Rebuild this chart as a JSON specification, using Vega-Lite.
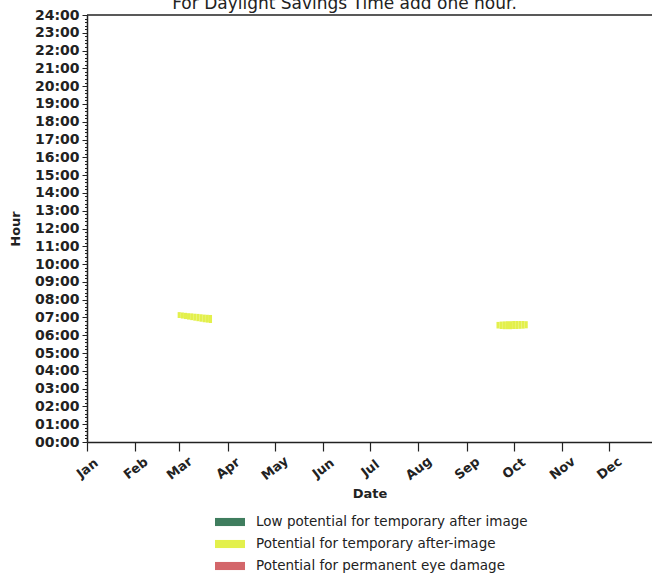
{
  "$schema": "https://vega.github.io/schema/vega-lite/v6.json",
  "width": 565,
  "height": 427,
  "autosize": {"type": "none"},
  "padding": {"left": 87, "top": 15, "right": 0, "bottom": 136},
  "background": "white",
  "config": {"view": {"stroke": null}},
  "title": {
    "text": "For Daylight Savings Time add one hour.",
    "font": "DejaVu Sans",
    "fontSize": 17,
    "fontWeight": "normal",
    "color": "#222222",
    "anchor": "middle",
    "dx": -25,
    "dy": 5,
    "offset": 0,
    "frame": "group"
  },
  "data": {
    "values": [
      {"date": "2023-02-28", "date2": "2023-03-02", "start": 6.97, "end": 7.30, "category": "Potential for temporary after-image"},
      {"date": "2023-03-02", "date2": "2023-03-04", "start": 6.94, "end": 7.28, "category": "Potential for temporary after-image"},
      {"date": "2023-03-04", "date2": "2023-03-06", "start": 6.91, "end": 7.26, "category": "Potential for temporary after-image"},
      {"date": "2023-03-06", "date2": "2023-03-08", "start": 6.88, "end": 7.24, "category": "Potential for temporary after-image"},
      {"date": "2023-03-08", "date2": "2023-03-10", "start": 6.85, "end": 7.23, "category": "Potential for temporary after-image"},
      {"date": "2023-03-10", "date2": "2023-03-12", "start": 6.82, "end": 7.21, "category": "Potential for temporary after-image"},
      {"date": "2023-03-12", "date2": "2023-03-14", "start": 6.79, "end": 7.20, "category": "Potential for temporary after-image"},
      {"date": "2023-03-14", "date2": "2023-03-16", "start": 6.76, "end": 7.18, "category": "Potential for temporary after-image"},
      {"date": "2023-03-16", "date2": "2023-03-18", "start": 6.73, "end": 7.16, "category": "Potential for temporary after-image"},
      {"date": "2023-03-18", "date2": "2023-03-20", "start": 6.71, "end": 7.15, "category": "Potential for temporary after-image"},
      {"date": "2023-03-20", "date2": "2023-03-22", "start": 6.69, "end": 7.14, "category": "Potential for temporary after-image"},
      {"date": "2023-09-20", "date2": "2023-09-22", "start": 6.38, "end": 6.75, "category": "Potential for temporary after-image"},
      {"date": "2023-09-22", "date2": "2023-09-24", "start": 6.35, "end": 6.77, "category": "Potential for temporary after-image"},
      {"date": "2023-09-24", "date2": "2023-09-26", "start": 6.34, "end": 6.78, "category": "Potential for temporary after-image"},
      {"date": "2023-09-26", "date2": "2023-09-28", "start": 6.34, "end": 6.79, "category": "Potential for temporary after-image"},
      {"date": "2023-09-28", "date2": "2023-09-30", "start": 6.34, "end": 6.79, "category": "Potential for temporary after-image"},
      {"date": "2023-09-30", "date2": "2023-10-02", "start": 6.35, "end": 6.80, "category": "Potential for temporary after-image"},
      {"date": "2023-10-02", "date2": "2023-10-04", "start": 6.35, "end": 6.80, "category": "Potential for temporary after-image"},
      {"date": "2023-10-04", "date2": "2023-10-06", "start": 6.36, "end": 6.80, "category": "Potential for temporary after-image"},
      {"date": "2023-10-06", "date2": "2023-10-08", "start": 6.37, "end": 6.80, "category": "Potential for temporary after-image"},
      {"date": "2023-10-08", "date2": "2023-10-10", "start": 6.39, "end": 6.79, "category": "Potential for temporary after-image"}
    ]
  },
  "layer": [
    {
      "mark": {"type": "rect", "opacity": 1},
      "encoding": {
        "x": {
          "field": "date",
          "type": "temporal",
          "scale": {
            "type": "utc",
            "domain": [
              {"year": 2023, "month": 1, "date": 1, "utc": true},
              {"year": 2023, "month": 12, "date": 28, "hours": 12, "utc": true}
            ]
          },
          "axis": {
            "title": "Date",
            "values": [
              {"year": 2023, "month": 1, "date": 1, "utc": true},
              {"year": 2023, "month": 2, "date": 1, "utc": true},
              {"year": 2023, "month": 3, "date": 1, "utc": true},
              {"year": 2023, "month": 4, "date": 1, "utc": true},
              {"year": 2023, "month": 5, "date": 1, "utc": true},
              {"year": 2023, "month": 6, "date": 1, "utc": true},
              {"year": 2023, "month": 7, "date": 1, "utc": true},
              {"year": 2023, "month": 8, "date": 1, "utc": true},
              {"year": 2023, "month": 9, "date": 1, "utc": true},
              {"year": 2023, "month": 10, "date": 1, "utc": true},
              {"year": 2023, "month": 11, "date": 1, "utc": true},
              {"year": 2023, "month": 12, "date": 1, "utc": true}
            ],
            "format": "%b",
            "tickCount": 50,
            "grid": false,
            "labelAngle": -38,
            "labelAlign": "center",
            "labelBaseline": "middle",
            "labelPadding": 17,
            "labelOverlap": false,
            "labelFlush": false,
            "labelFont": "DejaVu Sans",
            "labelFontWeight": "bold",
            "labelFontSize": 13,
            "labelColor": "#222222",
            "tickSize": 9,
            "tickColor": "#222222",
            "tickWidth": 1.2,
            "domainColor": "#222222",
            "domainWidth": 1.5,
            "titleFont": "DejaVu Sans",
            "titleFontWeight": "bold",
            "titleFontSize": 13,
            "titleColor": "#222222",
            "titlePadding": 5
          }
        },
        "x2": {"field": "date2"},
        "y": {
          "field": "start",
          "type": "quantitative",
          "scale": {"domain": [0, 24], "nice": false, "zero": false},
          "axis": {
            "title": "Hour",
            "values": [0, 0.2, 0.4, 0.6, 0.8, 1, 1.2, 1.4, 1.6, 1.8, 2, 2.2, 2.4, 2.6, 2.8, 3, 3.2, 3.4, 3.6, 3.8, 4, 4.2, 4.4, 4.6, 4.8, 5, 5.2, 5.4, 5.6, 5.8, 6, 6.2, 6.4, 6.6, 6.8, 7, 7.2, 7.4, 7.6, 7.8, 8, 8.2, 8.4, 8.6, 8.8, 9, 9.2, 9.4, 9.6, 9.8, 10, 10.2, 10.4, 10.6, 10.8, 11, 11.2, 11.4, 11.6, 11.8, 12, 12.2, 12.4, 12.6, 12.8, 13, 13.2, 13.4, 13.6, 13.8, 14, 14.2, 14.4, 14.6, 14.8, 15, 15.2, 15.4, 15.6, 15.8, 16, 16.2, 16.4, 16.6, 16.8, 17, 17.2, 17.4, 17.6, 17.8, 18, 18.2, 18.4, 18.6, 18.8, 19, 19.2, 19.4, 19.6, 19.8, 20, 20.2, 20.4, 20.6, 20.8, 21, 21.2, 21.4, 21.6, 21.8, 22, 22.2, 22.4, 22.6, 22.8, 23, 23.2, 23.4, 23.6, 23.8, 24],
            "tickCount": 500,
            "labelExpr": "abs(datum.value - round(datum.value)) < 0.01 ? (round(datum.value) < 10 ? '0' : '') + round(datum.value) + ':00' : ''",
            "tickSize": {"condition": {"test": "abs(datum.value - round(datum.value)) < 0.01", "value": 5}, "value": 2.5},
            "grid": false,
            "labelOverlap": false,
            "labelFlush": false,
            "labelFont": "DejaVu Sans",
            "labelFontWeight": "bold",
            "labelFontSize": 14,
            "labelColor": "#222222",
            "labelPadding": 3,
            "tickColor": "#222222",
            "tickWidth": 1,
            "domainColor": "#222222",
            "domainWidth": 1.5,
            "titleFont": "DejaVu Sans",
            "titleFontWeight": "bold",
            "titleFontSize": 13,
            "titleColor": "#222222",
            "titlePadding": 12
          }
        },
        "y2": {"field": "end"},
        "color": {
          "field": "category",
          "type": "nominal",
          "scale": {
            "domain": ["Low potential for temporary after image", "Potential for temporary after-image", "Potential for permanent eye damage"],
            "range": ["#3f7d5e", "#e3f04c", "#d3666a"]
          },
          "legend": {
            "orient": "none",
            "legendX": 128,
            "legendY": 492,
            "title": null,
            "symbolType": "M-1,-0.27H1V0.27H-1Z",
            "symbolSize": 900,
            "symbolStrokeWidth": 0,
            "symbolOpacity": 1,
            "labelFont": "DejaVu Sans",
            "labelFontSize": 13.5,
            "labelColor": "#222222",
            "labelOffset": 11,
            "labelLimit": 400,
            "rowPadding": 0
          }
        }
      }
    },
    {
      "data": {"values": [{"top": 24}]},
      "mark": {"type": "rule", "color": "#222222", "strokeWidth": 1.5},
      "encoding": {"y": {"field": "top", "type": "quantitative"}}
    }
  ]
}
